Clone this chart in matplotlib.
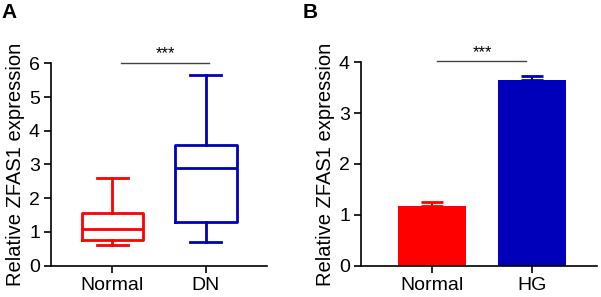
import matplotlib
matplotlib.use("Agg")
import matplotlib.pyplot as plt

plt.rcParams['font.family'] = ['Liberation Sans', 'DejaVu Sans']

# Panel A box stats
box_labels = ["Normal", "DN"]
box_whislo = [0.6, 0.7]
box_q1 = [0.75, 1.3]
box_med = [1.1, 2.9]
box_q3 = [1.55, 3.58]
box_whishi = [2.6, 5.65]
box_colors = ["#FF0000", "#0000BB"]

# Panel B bar data
bar_labels = ["Normal", "HG"]
bar_values = [1.17, 3.66]
bar_err = [0.08, 0.06]
bar_colors = ["#FF0000", "#0000BB"]

sig_text = "***"
ylabel = "Relative ZFAS1 expression"

fig = plt.figure(figsize=(6.01, 2.97), dpi=100)
axA = fig.add_axes([0.0849, 0.1054, 0.3594, 0.6815])
axB = fig.add_axes([0.6007, 0.1054, 0.3927, 0.685])

def style(ax):
    for s in ["top", "right"]:
        ax.spines[s].set_visible(False)
    for s in ["left", "bottom"]:
        ax.spines[s].set_linewidth(1.2)
    ax.tick_params(axis='both', labelsize=14, width=1.2, length=5, pad=3)
    ax.set_ylabel(ylabel, fontsize=14.5, labelpad=3)

# Panel A
stats = []
for i in range(2):
    stats.append(dict(label=box_labels[i], whislo=box_whislo[i], q1=box_q1[i],
                      med=box_med[i], q3=box_q3[i], whishi=box_whishi[i], fliers=[]))
for i, st in enumerate(stats):
    c = box_colors[i]
    axA.bxp([st], positions=[i], widths=0.65, showfliers=False,
            boxprops=dict(color=c, linewidth=2),
            whiskerprops=dict(color=c, linewidth=2),
            capprops=dict(color=c, linewidth=2),
            medianprops=dict(color=c, linewidth=2),
            capwidths=0.33)
axA.set_xlim(-0.65, 1.65)
axA.set_ylim(0, 6)
axA.set_yticks(range(0, 7))
axA.set_xticks([0, 1])
axA.set_xticklabels(box_labels)
style(axA)
axA.plot([0.1, 1.03], [6.02, 6.02], color="#444444", lw=1, clip_on=False)
axA.text(0.565, 6.05, sig_text, ha='center', va='bottom', fontsize=12)
fig.text(0.003, 0.99, "A", fontsize=15, fontweight='bold', va='top', ha='left')

# Panel B
axB.bar([0, 1], bar_values, width=0.68, color=bar_colors, zorder=2)
for i in range(2):
    axB.errorbar([i], [bar_values[i]], yerr=[[0], [bar_err[i]]], color=bar_colors[i],
                 capsize=8, elinewidth=1.5, capthick=2, zorder=1)
axB.set_xlim(-0.71, 1.65)
axB.set_ylim(0, 4)
axB.set_yticks(range(0, 5))
axB.set_xticks([0, 1])
axB.set_xticklabels(bar_labels)
style(axB)
axB.plot([0.05, 0.94], [4.02, 4.02], color="#444444", lw=1, clip_on=False)
axB.text(0.5, 4.04, sig_text, ha='center', va='bottom', fontsize=12)
fig.text(0.503, 0.99, "B", fontsize=15, fontweight='bold', va='top', ha='left')

fig.savefig("out.png", dpi=100)
